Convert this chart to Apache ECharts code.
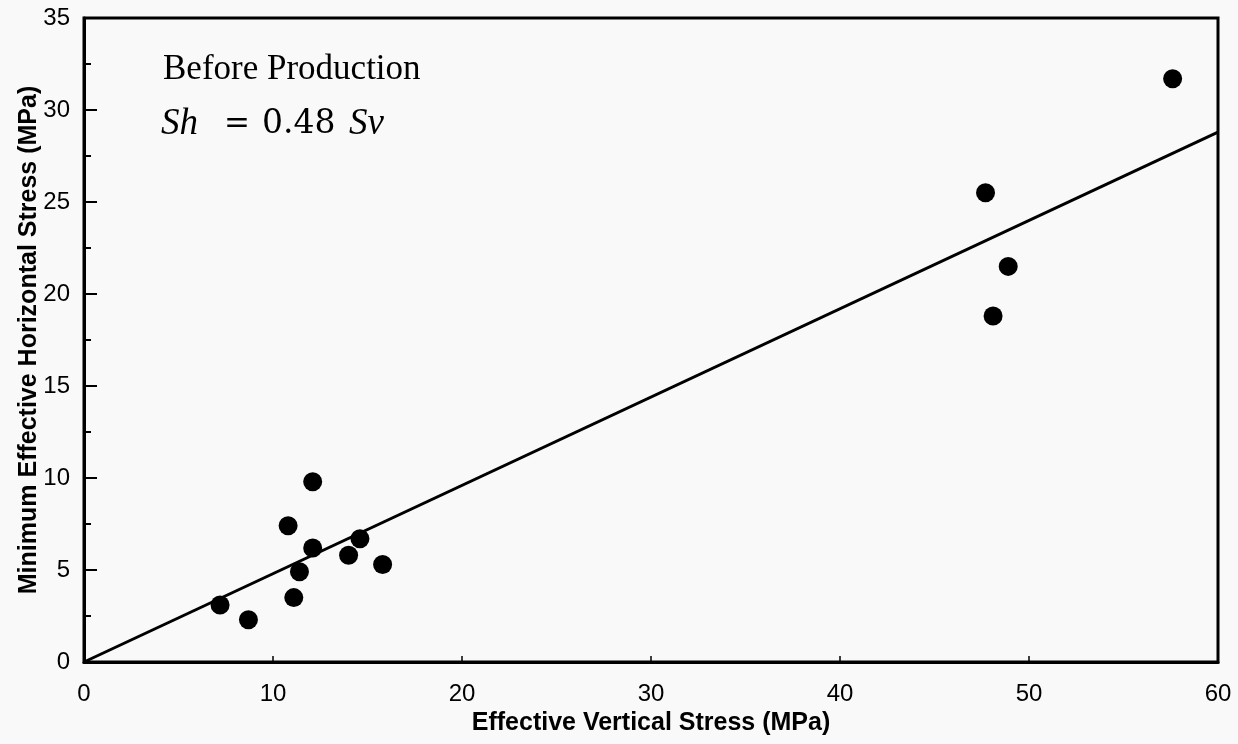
<!DOCTYPE html>
<html>
<head>
<meta charset="utf-8">
<title>Minimum Effective Horizontal Stress vs Effective Vertical Stress</title>
<script src="https://cdn.jsdelivr.net/npm/echarts@6/dist/echarts.min.js"></script>
<style>
  html, body { margin: 0; padding: 0; background: #f9f9f9; }
  #chart { width: 1238px; height: 744px; }
</style>
</head>
<body>
<div id="chart"></div>
<script>
// Measured stresses (MPa): effective vertical (Sv) and minimum effective horizontal (Sh)
const svValues = [7.2, 8.7, 10.8, 11.1, 11.4, 12.1, 12.1, 14.0, 14.6, 15.8, 47.7, 48.1, 48.9, 57.6];
const shValues = [3.1, 2.3, 7.4, 3.5, 4.9, 9.8, 6.2, 5.8, 6.7, 5.3, 25.5, 18.8, 21.5, 31.7];

// Fitted relation Sh = 0.48 Sv
const fitSlope = 0.48;
const fitRange = [0, 60];

// Axis ranges and tick labels
const xTicks = [0, 10, 20, 30, 40, 50, 60];
const yTicks = [0, 5, 10, 15, 20, 25, 30, 35];

const points = svValues.map((sv, i) => [sv, shValues[i]]);
const fitLine = fitRange.map(sv => [sv, fitSlope * sv]);

const sansFont = '"Liberation Sans", Arial, sans-serif';
const serifFont = '"Liberation Serif", "Times New Roman", serif';

const chart = echarts.init(document.getElementById('chart'), null, { renderer: 'canvas' });

chart.setOption({
  backgroundColor: '#f9f9f9',
  animation: false,
  grid: {
    left: 84, right: 20, top: 18, bottom: 82,
    show: true, borderColor: '#000', borderWidth: 3, backgroundColor: 'transparent'
  },
  xAxis: {
    type: 'value',
    min: xTicks[0], max: xTicks[xTicks.length - 1], interval: 10,
    name: 'Effective Vertical Stress (MPa)',
    nameLocation: 'middle', nameGap: 49, nameMoveOverlap: false,
    nameTextStyle: { fontFamily: sansFont, fontWeight: 'bold', fontSize: 25, color: '#000' },
    axisLine: { lineStyle: { color: '#000', width: 3 } },
    axisTick: { inside: true, length: 6, lineStyle: { color: '#000', width: 1.5 } },
    axisLabel: { fontFamily: sansFont, fontSize: 24, color: '#000', margin: 20,
      formatter: v => xTicks.includes(v) ? String(v) : '' },
    splitLine: { show: false }
  },
  yAxis: {
    type: 'value',
    min: yTicks[0], max: yTicks[yTicks.length - 1], interval: 5,
    name: 'Minimum Effective Horizontal Stress (MPa)',
    nameLocation: 'middle', nameGap: 42, nameMoveOverlap: false,
    nameTextStyle: { fontFamily: sansFont, fontWeight: 'bold', fontSize: 25, color: '#000' },
    axisLine: { lineStyle: { color: '#000', width: 3 } },
    axisTick: { inside: true, length: 13, lineStyle: { color: '#000', width: 2 } },
    minorTick: { show: true, splitNumber: 2, length: 7, lineStyle: { color: '#000', width: 2 } },
    axisLabel: { fontFamily: sansFont, fontSize: 24, color: '#000', margin: 14,
      formatter: v => yTicks.includes(v) ? String(v) : '' },
    splitLine: { show: false }
  },
  series: [
    {
      name: 'Fit',
      type: 'line',
      data: fitLine,
      showSymbol: false,
      lineStyle: { color: '#000', width: 3 },
      z: 2
    },
    {
      name: 'Measured',
      type: 'scatter',
      data: points,
      symbol: 'circle',
      symbolSize: 19,
      itemStyle: { color: '#000', opacity: 1 },
      z: 3
    }
  ],
  graphic: [
    {
      type: 'text', left: 163, top: 52,
      style: { text: 'Before Production', font: '35px ' + serifFont, fill: '#000' }
    },
    {
      type: 'text', left: 161, top: 106,
      style: { text: 'Sh', font: 'italic 37px ' + serifFont, fill: '#000' }
    },
    {
      type: 'text', left: 224, top: 109,
      style: { text: '=', font: '31px "DejaVu Serif", serif', fill: '#000' }
    },
    {
      type: 'text', left: 262, top: 108,
      style: { text: '0.48', font: '33px "DejaVu Serif", serif', fill: '#000' }
    },
    {
      type: 'text', left: 349, top: 106,
      style: { text: 'Sv', font: 'italic 37px ' + serifFont, fill: '#000' }
    }
  ]
});
</script>
</body>
</html>
